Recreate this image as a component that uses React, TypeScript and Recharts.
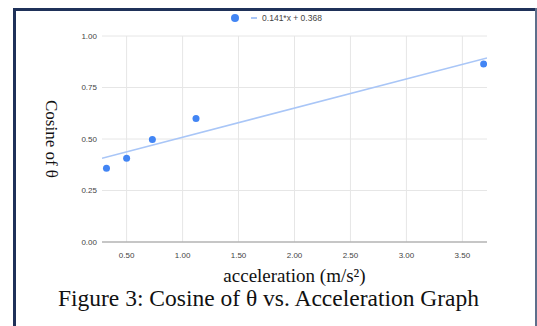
import React from 'react';
import { ComposedChart, Scatter, Line, XAxis, YAxis, CartesianGrid, Label } from 'recharts';

// measured points (acceleration, cosine of theta)
const accel = [0.32, 0.5, 0.73, 1.12, 3.69];
const cosTheta = [0.358, 0.406, 0.498, 0.6, 0.864];

// trendline ends
const trendX = [0.28, 3.72];
const trendY = [0.407, 0.893];

const xTicks = [0.5, 1.0, 1.5, 2.0, 2.5, 3.0, 3.5];
const yTicks = [0, 0.25, 0.5, 0.75, 1.0];

const points = accel.map((x, i) => ({ x, y: cosTheta[i] }));
const trend = trendX.map((x, i) => ({ x, t: trendY[i] }));

const DOT = '#4285f4';
const TREND = '#a9c6f7';
const FRAME = '#1f3159';
const SERIF = '"Liberation Serif", "Times New Roman", serif';

const LegendRow = () => (
  <div
    style={{
      position: 'absolute',
      top: 13,
      left: 0,
      width: 537,
      paddingLeft: 16,
      boxSizing: 'border-box',
      display: 'flex',
      justifyContent: 'center',
      alignItems: 'center',
      fontFamily: 'Arial, "Liberation Sans", sans-serif',
      fontSize: 8.5,
      color: '#444',
      gap: 7,
      lineHeight: '10px',
    }}
  >
    <span style={{ width: 8, height: 8, borderRadius: '50%', background: DOT, display: 'inline-block' }} />
    <span style={{ display: 'inline-flex', alignItems: 'center', gap: 5, marginLeft: 5 }}>
      <span style={{ width: 6, height: 2, background: TREND, display: 'inline-block' }} />
      0.141*x + 0.368
    </span>
  </div>
);

const tickStyle = { fontFamily: 'Arial, "Liberation Sans", sans-serif', fontSize: 8, fill: '#444' };

const bar = (left: number, top: number, width: number, height: number, color: string) => (
  <div style={{ position: 'absolute', left, top, width, height, background: color, zIndex: 10 }} />
);

export default function App() {
  return (
    <div
      style={{
        position: 'absolute',
        left: 0,
        top: 0,
        width: 537,
        height: 326,
        background: '#fff',
        overflow: 'hidden',
      }}
    >
      <ComposedChart
        width={537}
        height={326}
        margin={{ top: 36, right: 50, bottom: 54, left: 0 }}
      >
        <CartesianGrid stroke="#e6e6e6" strokeWidth={1} verticalValues={xTicks} horizontalValues={yTicks} />
        <XAxis
          type="number"
          dataKey="x"
          domain={[0.28, 3.72]}
          ticks={xTicks}
          tickFormatter={(v: number) => v.toFixed(2)}
          allowDataOverflow
          height={30}
          tickLine={false}
          tickSize={0}
          tickMargin={10}
          axisLine={{ stroke: '#999', strokeWidth: 1.2 }}
          tick={tickStyle}
        >
          <Label
            value="acceleration (m/s²)"
            position="insideBottom"
            offset={-10}
            style={{ fontFamily: SERIF, fontSize: 19, fill: '#111' }}
          />
        </XAxis>
        <YAxis
          type="number"
          domain={[0, 1]}
          ticks={yTicks}
          tickFormatter={(v: number) => v.toFixed(2)}
          width={102}
          axisLine={false}
          tickLine={false}
          tickSize={0}
          tickMargin={5}
          tick={tickStyle}
        >
          <Label
            value="Cosine of θ"
            position="center"
            angle={90}
            dx={1}
            style={{ fontFamily: SERIF, fontSize: 17, fill: '#111' }}
          />
        </YAxis>
        <Line
          data={trend}
          dataKey="t"
          type="linear"
          stroke={TREND}
          strokeWidth={1.5}
          dot={false}
          activeDot={false}
          isAnimationActive={false}
        />
        <Scatter
          data={points}
          dataKey="y"
          fill={DOT}
          isAnimationActive={false}
          shape={(p: any) => <circle cx={p.cx} cy={p.cy} r={3.5} fill={DOT} />}
        />
      </ComposedChart>
      <LegendRow />
      <div
        style={{
          position: 'absolute',
          left: 0,
          width: 537,
          top: 287,
          textAlign: 'center',
          fontFamily: SERIF,
          fontSize: 23.5,
          color: '#111',
          lineHeight: '23.5px',
          whiteSpace: 'nowrap',
        }}
      >
        Figure 3: Cosine of θ vs. Acceleration Graph
      </div>
      {bar(13, 8, 3, 318, FRAME)}
      {bar(13, 8, 524, 3, FRAME)}
      {bar(535, 8, 2, 318, '#5d6f8c')}
    </div>
  );
}
